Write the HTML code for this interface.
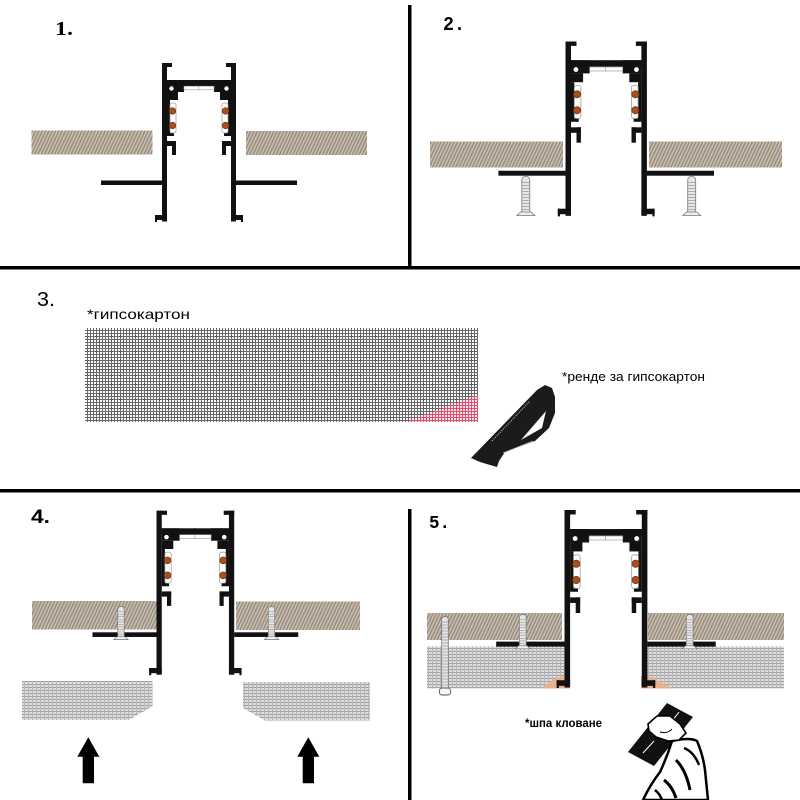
<!DOCTYPE html>
<html><head><meta charset="utf-8">
<style>html,body{margin:0;padding:0;background:#fff}svg{display:block}</style></head>
<body>
<svg width="800" height="800" viewBox="0 0 800 800" xmlns="http://www.w3.org/2000/svg" xmlns:xlink="http://www.w3.org/1999/xlink">
<defs>
<pattern id="hatch" width="3" height="3" patternUnits="userSpaceOnUse" patternTransform="rotate(25)">
  <rect width="3" height="3" fill="#c9bfb2"/>
  <rect width="1.4" height="3" fill="#968a7a"/>
</pattern>
<pattern id="grid" width="3" height="3" patternUnits="userSpaceOnUse">
  <rect width="3" height="3" fill="#fff"/>
  <rect width="3" height="1" fill="#666"/>
  <rect width="1" height="3" fill="#666"/>
</pattern>
<pattern id="gridp" width="3" height="3" patternUnits="userSpaceOnUse">
  <rect width="3" height="3" fill="#fbe3e8"/>
  <rect width="3" height="1" fill="#e0506e"/>
  <rect width="1" height="3" fill="#e0506e"/>
</pattern>
<pattern id="lgrid" width="4" height="3" patternUnits="userSpaceOnUse">
  <rect width="4" height="3" fill="#dcdcdc"/>
  <rect width="4" height="1" fill="#a2a2a2"/>
  <rect width="1" height="3" fill="#b6b6b6"/>
</pattern>
<g id="half" fill="#111">
  <rect x="0" y="0" width="5" height="158.5"/>
  <rect x="0" y="0" width="10" height="4"/>
  <rect x="5" y="17" width="32.5" height="6"/>
  <rect x="5" y="17" width="17" height="12"/>
  <rect x="5" y="29" width="11" height="8"/>
  <circle cx="9.5" cy="25.5" r="2.2" fill="#fff"/>
  <rect x="22" y="23.2" width="15.5" height="3.6" fill="#fff" stroke="#999" stroke-width="0.6"/>
  <rect x="5" y="37" width="3" height="34"/>
  <rect x="5" y="70" width="7" height="3"/>
  <rect x="8" y="40" width="6" height="30" rx="2" fill="none" stroke="#999" stroke-width="0.7"/>
  <circle cx="10.5" cy="48" r="3.3" fill="#a84f1c" stroke="#6a3010" stroke-width="0.6"/>
  <circle cx="10.5" cy="62.5" r="3.3" fill="#a84f1c" stroke="#6a3010" stroke-width="0.6"/>
  <rect x="5" y="78" width="9" height="5"/>
  <rect x="10" y="78" width="4" height="14"/>
  <rect x="-61" y="117.5" width="61" height="4.5"/>
  <rect x="-7" y="152" width="12" height="5"/>
  <rect x="-7" y="152" width="2" height="7"/>
</g>
<g id="prof">
  <use xlink:href="#half" href="#half"/>
  <use xlink:href="#half" href="#half" transform="translate(74,0) scale(-1,1)"/>
</g>
<g id="screw">
  <path d="M-4,36 L-4,4 Q-4,0 0,0 Q4,0 4,4 L4,36 Z" fill="#e6e6e6" stroke="#777" stroke-width="0.8"/>
  <path d="M-4,6 H4 M-4,9 H4 M-4,12 H4 M-4,15 H4 M-4,18 H4 M-4,21 H4 M-4,24 H4 M-4,27 H4 M-4,30 H4 M-4,33 H4" stroke="#9a9a9a" stroke-width="0.7"/>
  <path d="M-9,39 L-5,35.5 H5 L9,39 Z" fill="#eee" stroke="#777" stroke-width="0.8"/>
</g>
</defs>

<!-- separators -->
<rect x="408" y="5" width="3.5" height="262" fill="#000"/>
<rect x="0" y="266" width="800" height="3.5" fill="#000"/>
<rect x="0" y="489" width="800" height="3.5" fill="#000"/>
<rect x="408" y="509" width="3.5" height="291" fill="#000"/>

<!-- labels -->
<text x="55" y="35" font-family="Liberation Serif, serif" font-weight="bold" font-size="20" textLength="18" lengthAdjust="spacingAndGlyphs">1.</text>
<text x="443" y="30" font-family="Liberation Mono, monospace" font-weight="bold" font-size="19" textLength="22" lengthAdjust="spacingAndGlyphs">2.</text>
<text x="37" y="306" font-family="Liberation Sans, sans-serif" font-size="20" textLength="18" lengthAdjust="spacingAndGlyphs">3.</text>
<text x="31" y="523" font-family="Liberation Sans, sans-serif" font-weight="bold" font-size="19" textLength="19" lengthAdjust="spacingAndGlyphs">4.</text>
<text x="429" y="528" font-family="Liberation Mono, monospace" font-weight="bold" font-size="18" textLength="21" lengthAdjust="spacingAndGlyphs">5.</text>

<!-- PANEL 1 -->
<rect x="31.5" y="130.5" width="121" height="24" fill="url(#hatch)"/>
<rect x="246" y="131" width="121" height="24" fill="url(#hatch)"/>
<use xlink:href="#prof" href="#prof" transform="translate(162,63)"/>

<!-- PANEL 2 -->
<rect x="430" y="141.5" width="133" height="26" fill="url(#hatch)"/>
<rect x="649" y="141.5" width="133" height="26" fill="url(#hatch)"/>
<use xlink:href="#prof" href="#prof" transform="translate(565.5,41.5) scale(1.1)"/>
<use xlink:href="#screw" href="#screw" transform="translate(525.8,176.5)"/>
<use xlink:href="#screw" href="#screw" transform="translate(691.7,176.5)"/>

<!-- PANEL 3 -->
<text x="87" y="319" font-family="Liberation Sans Narrow, Liberation Sans, sans-serif" font-size="14" textLength="103" lengthAdjust="spacingAndGlyphs">*гипсокартон</text>
<rect x="85" y="328" width="393" height="94" fill="url(#grid)"/>
<polygon points="406,422 478,422 478,395" fill="url(#gridp)"/>
<text x="562" y="381" font-family="Liberation Sans Narrow, Liberation Sans, sans-serif" font-size="13" textLength="143" lengthAdjust="spacingAndGlyphs">*ренде за гипсокартон</text>
<polygon points="471,458 537,390 545,385 552,388 555,397 555,413 549,428 535,441 505,452 499,461 497,467 490,465 480,462" fill="#1b1b1b"/>
<polygon points="521,440 546,411 542,428" fill="#fff"/>
<line x1="492" y1="441" x2="530" y2="401" stroke="#cfcfcf" stroke-width="1" stroke-dasharray="1 1.3"/>
<line x1="503" y1="453" x2="533" y2="441" stroke="#bbb" stroke-width="0.7"/>

<!-- PANEL 4 -->
<rect x="32" y="601" width="125" height="28.5" fill="url(#hatch)"/>
<rect x="236" y="601.5" width="124" height="28.5" fill="url(#hatch)"/>
<use xlink:href="#prof" href="#prof" transform="translate(156.5,510.7) scale(1.05,1.035)"/>
<use xlink:href="#screw" href="#screw" transform="translate(121,606.5) scale(0.8,0.85)"/>
<use xlink:href="#screw" href="#screw" transform="translate(271.5,606.5) scale(0.8,0.85)"/>
<polygon points="22,681 152.5,681 152.5,706.5 128.5,720 22,720" fill="url(#lgrid)"/>
<polygon points="243,682 370,682 370,720.5 265,720.5 243,708" fill="url(#lgrid)"/>
<polygon points="88.3,737.3 99.3,756.7 94,756.7 94,783.3 82.7,783.3 82.7,756.7 77.3,756.7" fill="#000"/>
<polygon points="308.3,737.3 319.3,756.7 314,756.7 314,783.3 302.7,783.3 302.7,756.7 297.3,756.7" fill="#000"/>

<!-- PANEL 5 -->
<rect x="427" y="613" width="135" height="27" fill="url(#hatch)"/>
<rect x="648" y="613" width="136" height="27" fill="url(#hatch)"/>
<rect x="427" y="646.5" width="138" height="42" fill="url(#lgrid)"/>
<rect x="647" y="646.5" width="137" height="42" fill="url(#lgrid)"/>
<polygon points="540,688.5 556,678 567,675.5 570,688.5" fill="#e9b08e"/>
<polygon points="641,688.5 641,676 651,677 673,688.5" fill="#e9b08e"/>
<use xlink:href="#prof" href="#prof" transform="translate(564.5,510) scale(1.12)"/>
<use xlink:href="#screw" href="#screw" transform="translate(522.8,614.5) scale(0.85,0.88)"/>
<use xlink:href="#screw" href="#screw" transform="translate(689.7,614.5) scale(0.85,0.88)"/>
<!-- long screw -->
<path d="M441.7,688 L441.7,620 Q441.7,616.5 445,616.5 Q448.3,616.5 448.3,620 L448.3,688 Z" fill="#e6e6e6" stroke="#777" stroke-width="0.8"/>
<path d="M441.7,622 H448.3 M441.7,625 H448.3 M441.7,628 H448.3 M441.7,631 H448.3 M441.7,634 H448.3 M441.7,637 H448.3 M441.7,640 H448.3 M441.7,643 H448.3 M441.7,646 H448.3 M441.7,649 H448.3 M441.7,652 H448.3 M441.7,655 H448.3 M441.7,658 H448.3 M441.7,661 H448.3 M441.7,664 H448.3 M441.7,667 H448.3 M441.7,670 H448.3 M441.7,673 H448.3 M441.7,676 H448.3 M441.7,679 H448.3 M441.7,682 H448.3 M441.7,685 H448.3" stroke="#9a9a9a" stroke-width="0.7"/>
<rect x="439.5" y="688" width="11" height="7" rx="2.5" fill="#f4f4f4" stroke="#555" stroke-width="0.9"/>

<text x="525" y="727" font-family="Liberation Sans Narrow, Liberation Sans, sans-serif" font-weight="bold" font-size="11.5" textLength="77" lengthAdjust="spacingAndGlyphs">*шпа кловане</text>

<!-- hand with trowel -->
<polygon points="628,752 667,703 693,717 654,766" fill="#111"/>
<line x1="643" y1="753" x2="654" y2="741" stroke="#fff" stroke-width="1"/>
<line x1="673" y1="720" x2="679" y2="712" stroke="#fff" stroke-width="1"/>
<path d="M672,741 Q690,737 697,741 Q703,755 705,770 L708,800 L643,800 Q650,785 660,772 Q667,757 672,741 Z" fill="#fff" stroke="#000" stroke-width="2.5"/>
<path d="M648,724 L657,716 L670,716 L680,724 L686,733 L679,740 L668,741 L656,737 L649,731 Z" fill="#fff" stroke="#000" stroke-width="1.6"/>
<path d="M660,732 Q668,734 672,729" fill="none" stroke="#000" stroke-width="1"/>
<path d="M676,760 Q686,770 690,790" fill="none" stroke="#000" stroke-width="3"/>
<path d="M664,780 Q672,786 676,798" fill="none" stroke="#000" stroke-width="3"/>
<path d="M684,748 Q694,752 699,765" fill="none" stroke="#000" stroke-width="2.5"/>
<path d="M655,790 Q660,794 662,800" fill="none" stroke="#000" stroke-width="2.5"/>
</svg>
</body></html>
